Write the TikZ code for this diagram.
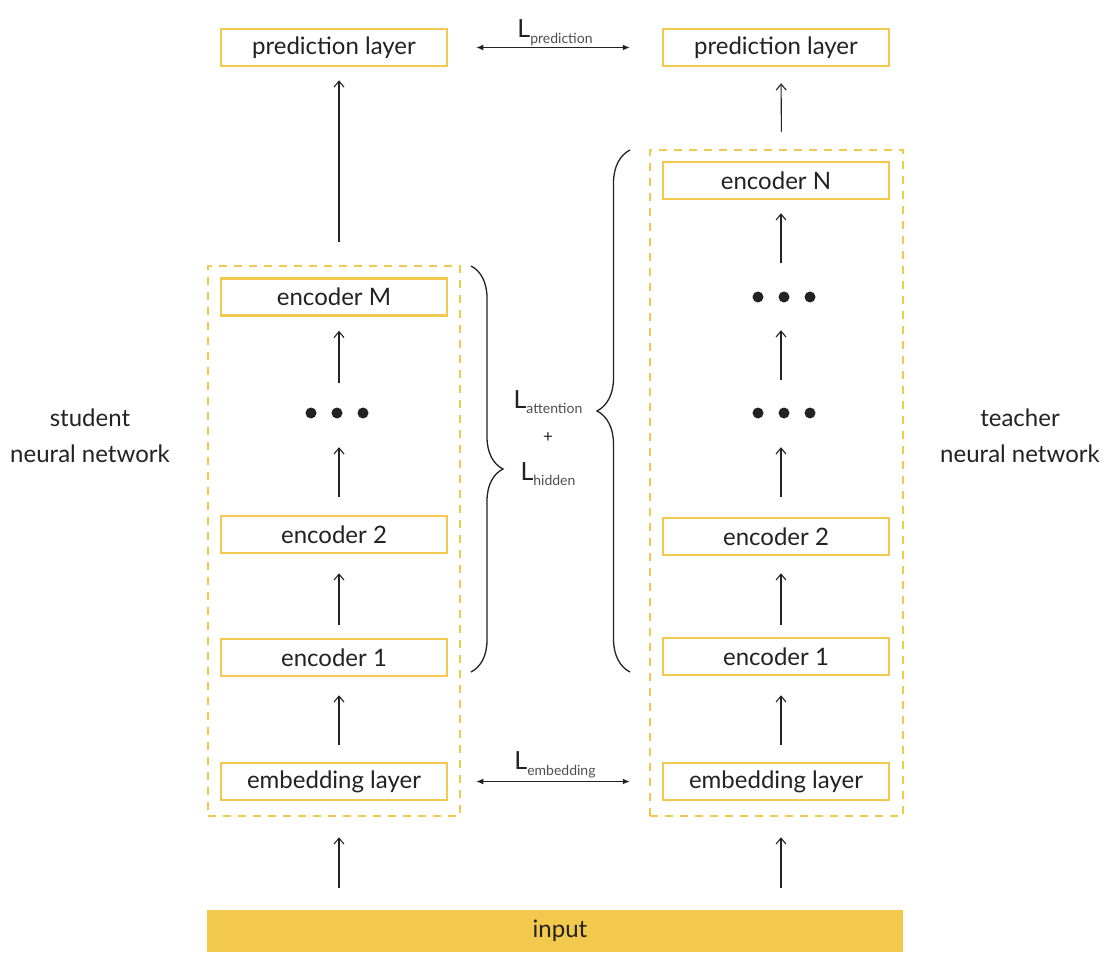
\documentclass[tikz,border=0pt]{standalone}
\usepackage{fontspec}
\setmainfont{Lato}
\usetikzlibrary{arrows.meta,decorations.pathreplacing}
\definecolor{ybox}{HTML}{F2C94C}
\definecolor{ink}{HTML}{222222}
\begin{document}
\begin{tikzpicture}[x=1pt,y=-1pt,
  layer/.style={draw=ybox, line width=2.5pt, fill=white, minimum width=226pt, minimum height=37pt, inner sep=0pt, font=\fontsize{24}{28}\selectfont, text=ink},
  group/.style={draw=ybox, line width=2.5pt, dash pattern=on 8pt off 7pt, inner sep=0pt},
  up/.style={-{Straight Barb[length=6pt,width=10pt]}, line width=1.1pt, draw=ink},
  loss/.style={{Latex[length=7pt,width=6pt]}-{Latex[length=7pt,width=6pt]}, line width=1.1pt, draw=ink},
  lbl/.style={font=\fontsize{24}{36}\selectfont, align=center, text=ink},
  lossl/.style={font=\fontsize{25}{28}\selectfont, text=ink, inner sep=0pt},
  dotrow/.style={minimum width=64pt, minimum height=12pt, inner sep=0pt},
  bracel/.style={decorate, line width=1.3pt, draw=ink}
]
\useasboundingbox (0,0) rectangle (1114,968);
\newcommand{\lsub}[1]{L\raisebox{-0.45ex}{\fontsize{14}{16}\selectfont\color{ink!80}#1}}
% groups
\node[group, minimum width=252pt, minimum height=550pt] (sg) at (334,541) {};
\node[group, minimum width=253pt, minimum height=666pt] (tg) at (776.5,483) {};
% student
\node[layer] (sp) at (334,47.5) {prediction layer};
\node[layer] (seM) at (334,297) {encoder M};
\node[dotrow] (sdots) at (337,413) {};
\node[layer] (se2) at (334,534.5) {encoder 2};
\node[layer] (se1) at (334,657.5) {encoder 1};
\node[layer] (semb) at (334,781.5) {embedding layer};
% teacher
\node[layer] (tp) at (776,47.5) {prediction layer};
\node[layer] (teN) at (776,180.5) {encoder N};
\node[dotrow] (tdotsa) at (784,297) {};
\node[dotrow] (tdotsb) at (784,413) {};
\node[layer] (te2) at (776,536.5) {encoder 2};
\node[layer] (te1) at (776,656.5) {encoder 1};
\node[layer] (temb) at (776,781.5) {embedding layer};
% input
\node[fill=ybox, minimum width=696pt, minimum height=42pt, inner sep=0pt, font=\fontsize{24}{28}\selectfont, text=ink] (inp) at (555,931) {\hspace*{10pt}input};
% dots
\foreach \d in {sdots,tdotsa,tdotsb}{
  \fill[ink] (\d.center) circle (5.5);
  \fill[ink] (\d.center) ++(-26,0) circle (5.5);
  \fill[ink] (\d.center) ++(26,0) circle (5.5);
}
% side labels
\node[lbl] (slab) at (90,436) {student\\neural network};
\node[lbl] (tlab) at (1020,436) {teacher\\neural network};
% student arrows
\draw[up, shorten <=23pt, shorten >=13pt] ([xshift=5pt]sg.north) -- ([xshift=5pt]sp.south);
\draw[up, shorten <=24pt, shorten >=14pt] ([xshift=2pt]sdots.north) -- ([xshift=5pt]seM.south);
\draw[up, shorten <=18pt, shorten >=28pt] ([xshift=5pt]se2.north) -- ([xshift=2pt]sdots.south);
\draw[up, shorten <=13pt, shorten >=19pt] ([xshift=5pt]se1.north) -- ([xshift=5pt]se2.south);
\draw[up, shorten <=17pt, shorten >=18pt] ([xshift=5pt]semb.north) -- ([xshift=5pt]se1.south);
\draw[up, shorten <=22pt, shorten >=20pt] (inp.north -| se1.center) ++(5,0) coordinate (ia) (ia) -- (ia |- sg.south);
% teacher arrows
\draw[up, shorten <=17pt, shorten >=16pt] ([xshift=5pt]tg.north) -- ([xshift=5pt]tp.south);
\draw[up, shorten <=28pt, shorten >=13pt] ([xshift=-3pt]tdotsa.north) -- ([xshift=5pt]teN.south);
\draw[up, shorten <=27pt, shorten >=27pt] ([xshift=-3pt]tdotsb.north) -- ([xshift=-3pt]tdotsa.south);
\draw[up, shorten <=20pt, shorten >=28pt] ([xshift=5pt]te2.north) -- ([xshift=-3pt]tdotsb.south);
\draw[up, shorten <=12pt, shorten >=17pt] ([xshift=5pt]te1.north) -- ([xshift=5pt]te2.south);
\draw[up, shorten <=17pt, shorten >=19pt] ([xshift=5pt]temb.north) -- ([xshift=5pt]te1.south);
\draw[up, shorten <=22pt, shorten >=20pt] (inp.north -| te1.center) ++(5,0) coordinate (ib) (ib) -- (ib |- tg.south);
% losses
\draw[loss, shorten <=28pt, shorten >=32pt] (sp.east) -- (tp.west)
  node[midway, anchor=base, yshift=10pt, lossl] (lpred) {\lsub{prediction}};
\draw[loss, shorten <=28pt, shorten >=32pt] (semb.east) -- (temb.west)
  node[midway, anchor=base, yshift=12pt, lossl] (lemb) {\lsub{embedding}};
% braces
\coordinate (bl1) at (471,266);
\coordinate (bl2) at (471,672);
\coordinate (br1) at (630,672);
\coordinate (br2) at (630,150);
\draw[bracel, decoration={brace, amplitude=32pt, aspect=0.5}] (bl1) -- (bl2);
\draw[bracel, decoration={brace, amplitude=33pt, aspect=0.5}] (br1) -- (br2);
\node[lossl] (latt) at (548,402) {\lsub{attention}};
\node[lossl, font=\fontsize{17}{18}\selectfont] (lplus) at (548,438) {+};
\node[lossl] (lhid) at (548,474) {\lsub{hidden}};
\end{tikzpicture}
\end{document}
